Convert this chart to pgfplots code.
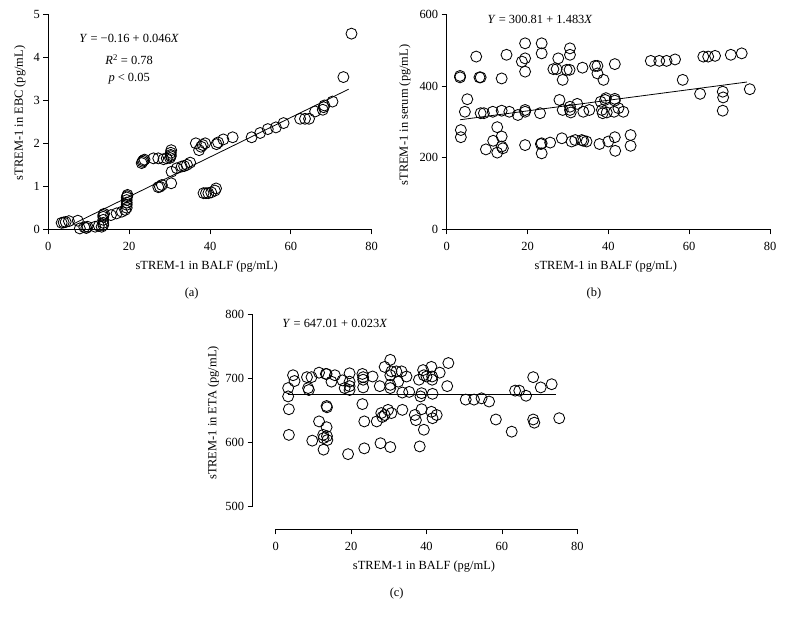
\documentclass[border=0pt]{standalone}
\usepackage{pgfplots}
\pgfplotsset{compat=1.18}
\usepackage{fontspec}
\setmainfont{Liberation Serif}
\begin{document}
\begin{tikzpicture}
\path[use as bounding box] (0bp,0bp) rectangle (786bp,617bp);
\pgfplotsset{
  myax/.style={
    scale only axis, anchor=south west,
    axis x line*=bottom, axis y line*=left,
    tick align=outside, major tick length=5bp,
    font=\fontsize{12.5}{14}\selectfont,
    /pgf/number format/assume math mode=true,
    tick label style={font=\fontsize{12.5}{14}\selectfont},
    yticklabel style={xshift=0bp},
    xticklabel style={yshift=-4bp},
    axis line style={line width=0.8pt},
    every tick/.style={line width=0.8pt, black},
    xtick={0,20,40,60,80},
    clip=false,
  },
  pts/.style={only marks, mark=o, mark size=5.5bp, line width=0.85pt, black},
  reg/.style={no marks, black, line width=0.8pt},
}
\pgfplotstableread{
x y
3.3 0.15
3.8 0.16
4.3 0.17
5.1 0.19
7.3 0.20
7.8 0.02
8.9 0.05
9.7 0.06
9.4 0.03
11.6 0.06
12.5 0.08
13.2 0.06
13.6 0.10
13.6 0.15
13.6 0.22
13.6 0.29
13.6 0.33
13.8 0.36
15.5 0.33
16.9 0.37
18.2 0.41
19.0 0.45
19.4 0.50
19.4 0.57
19.4 0.62
19.4 0.68
19.4 0.74
19.5 0.77
19.6 0.80
23.1 1.54
23.3 1.57
23.5 1.60
23.8 1.62
26.0 1.65
27.2 1.65
28.5 1.63
29.3 1.65
30.1 1.66
30.3 1.70
30.3 1.73
30.3 1.78
30.4 1.84
27.2 0.98
27.6 0.99
28.1 1.03
30.4 1.07
30.5 1.34
31.8 1.42
33.0 1.46
33.6 1.47
34.3 1.50
35.1 1.55
36.5 2.00
37.3 1.84
37.8 1.92
38.2 1.96
38.8 2.00
38.4 0.84
39.0 0.84
39.6 0.84
40.3 0.86
41.2 0.90
41.5 0.95
41.6 1.98
42.0 2.02
43.3 2.09
45.6 2.14
50.3 2.14
52.4 2.24
54.3 2.33
56.3 2.37
58.2 2.47
62.3 2.57
63.5 2.57
64.5 2.57
66.0 2.74
67.9 2.78
68.1 2.84
68.3 2.88
70.3 2.97
73.0 3.54
75.0 4.55
}\dataA
\pgfplotstableread{
x y
3.3 428
3.3 424
3.5 277
3.5 257
5.1 363
4.5 328
7.3 482
8.1 424
8.4 424
8.4 324
9.2 324
9.7 223
11.4 328
11.5 247
12.5 285
12.5 214
13.6 259
13.6 421
13.6 331
13.6 231
13.9 226
14.8 487
15.5 328
17.6 319
18.6 468
19.4 519
19.4 477
19.4 440
19.4 333
19.4 328
19.4 235
23.5 519
23.5 491
23.1 324
23.3 238
23.5 240
23.5 212
25.6 242
26.4 447
27.2 447
27.6 477
27.9 361
28.5 254
28.7 417
28.7 333
29.7 445
30.4 445
30.5 505
30.5 487
30.5 342
30.5 333
30.7 326
30.9 245
31.8 249
32.3 350
33.4 249
33.8 247
33.6 451
33.8 328
34.6 245
35.3 333
36.7 456
37.3 456
37.3 435
37.8 238
38.1 356
38.4 333
38.6 324
38.8 417
39.2 361
39.4 366
39.6 326
40.0 245
41.6 461
41.6 364
41.6 359
41.6 257
41.7 219
41.4 328
42.5 338
43.7 328
45.5 263
45.5 233
50.5 470
52.6 470
54.4 470
56.5 474
58.4 417
62.7 378
63.5 482
64.7 482
66.4 484
68.3 384
68.4 368
68.3 331
70.3 487
73.0 491
75.0 391
}\dataB
\pgfplotstableread{
x y
3.3 685
3.3 672
3.5 652
3.5 612
4.6 705
5.0 696
8.3 702
8.6 685
8.8 682
9.5 702
9.7 603
11.5 709
11.5 633
12.6 612
12.7 607
12.7 589
13.3 707
13.5 707
13.5 657
13.6 655
13.5 624
13.6 610
13.7 604
14.8 695
15.7 705
17.7 697
18.3 685
19.2 582
19.6 708
19.6 695
19.6 688
19.6 682
23.0 707
23.2 702
23.2 698
23.2 686
23.0 660
23.5 633
23.5 591
25.7 703
26.8 633
27.6 688
27.8 599
28.0 646
28.3 640
28.9 718
28.9 643
29.8 651
30.4 729
30.4 705
30.7 711
30.4 690
30.4 685
30.4 593
30.7 646
32.0 711
32.5 695
33.4 711
33.6 678
33.6 651
34.7 703
35.4 679
36.9 643
37.2 635
38.0 698
38.2 594
38.4 672
38.7 677
38.7 652
39.1 713
39.3 705
39.3 620
40.0 703
41.3 718
41.5 703
41.5 698
41.6 676
41.3 648
41.6 638
42.7 643
43.5 709
45.8 724
45.5 688
50.4 667
52.6 667
54.6 669
56.6 664
58.4 636
62.6 617
63.5 681
64.6 681
66.4 673
68.3 702
68.3 636
68.6 631
70.3 686
73.2 691
75.2 638
}\dataC

% Panel (a)
\begin{axis}[myax, at={(48.3bp,387.7bp)}, width=323.4bp, height=215bp,
  xmin=0, xmax=80, ymin=0, ymax=5, ytick={0,1,2,3,4,5}]
\addplot[pts] table[x=x,y=y] {\dataA};
\addplot[reg] coordinates {(6,0.116) (74.3,3.258)};
\node at (axis cs:20,4.43) {\textit{Y} = −0.16 + 0.046\textit{X}};
\node at (axis cs:20,3.94) {\textit{R}\textsuperscript{2} = 0.78};
\node at (axis cs:20,3.50) {\textit{p} < 0.05};
\end{axis}
\node[font=\fontsize{12.5}{14}\selectfont] at (206.7bp,350.3bp) {sTREM-1 in BALF (pg/mL)};
\node[font=\fontsize{12.5}{14}\selectfont] at (191.7bp,323.7bp) {(a)};
\node[font=\fontsize{12.5}{14}\selectfont, rotate=90] at (20bp,504bp) {sTREM-1 in EBC (pg/mL)};

% Panel (b)
\begin{axis}[myax, at={(446.7bp,387.7bp)}, width=323.3bp, height=215bp,
  xmin=0, xmax=80, ymin=0, ymax=600, ytick={0,200,400,600}]
\addplot[pts] table[x=x,y=y] {\dataB};
\addplot[reg] coordinates {(3.3,305.7) (74.3,411.0)};
\node at (axis cs:23.1,587) {\textit{Y} = 300.81 + 1.483\textit{X}};
\end{axis}
\node[font=\fontsize{12.5}{14}\selectfont] at (605.8bp,350.3bp) {sTREM-1 in BALF (pg/mL)};
\node[font=\fontsize{12.5}{14}\selectfont] at (594bp,323.7bp) {(b)};
\node[font=\fontsize{12.5}{14}\selectfont, rotate=90] at (405bp,502bp) {sTREM-1 in serum (pg/mL)};

% Panel (c)
\begin{axis}[myax, at={(252.5bp,87.7bp)}, width=324.8bp, height=215bp,
  xmin=-6.15, xmax=80, ymin=464.8, ymax=800, ytick={500,600,700,800},
  x axis line style={shorten <=23.2bp},
  y axis line style={shorten <=22.6bp}]
\addplot[pts] table[x=x,y=y] {\dataC};
\addplot[reg] coordinates {(3.3,675) (74.3,675)};
\node at (axis cs:15.7,785) {\textit{Y} = 647.01 + 0.023\textit{X}};
\end{axis}
\node[font=\fontsize{12.5}{14}\selectfont] at (424bp,50.3bp) {sTREM-1 in BALF (pg/mL)};
\node[font=\fontsize{12.5}{14}\selectfont] at (396.7bp,23.7bp) {(c)};
\node[font=\fontsize{12.5}{14}\selectfont, rotate=90] at (213.3bp,204bp) {sTREM-1 in ETA (pg/mL)};
\end{tikzpicture}
\end{document}
